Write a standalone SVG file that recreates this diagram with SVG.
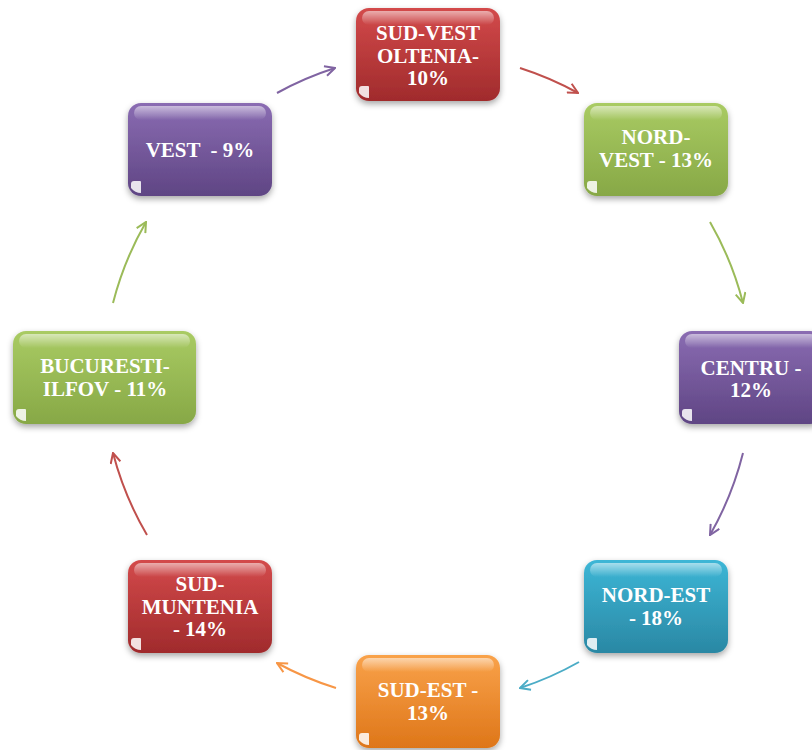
<svg xmlns="http://www.w3.org/2000/svg" width="812" height="750" viewBox="0 0 812 750">
<defs>
<style>
.t{font-family:"Liberation Serif","Times New Roman",serif;font-weight:bold;font-size:21px;fill:#fff;text-anchor:middle}
.hl{fill:url(#hl)}
.cn{fill:#fff;opacity:0.85}
.arc{fill:none;stroke-width:2}
</style>
<filter id="sh" x="-20%" y="-20%" width="140%" height="150%">
<feDropShadow dx="0" dy="3" stdDeviation="3" flood-color="#000" flood-opacity="0.35"/>
</filter>
<linearGradient id="hl" x1="0" y1="0" x2="0" y2="1">
<stop offset="0" stop-color="#fff" stop-opacity="0.55"/>
<stop offset="1" stop-color="#fff" stop-opacity="0"/>
</linearGradient>
<linearGradient id="gRed" x1="0" y1="0" x2="0" y2="1">
<stop offset="0" stop-color="#d34a4b"/><stop offset="1" stop-color="#a02b2c"/>
</linearGradient>
<linearGradient id="gGreen" x1="0" y1="0" x2="0" y2="1">
<stop offset="0" stop-color="#a9cb63"/><stop offset="1" stop-color="#87a846"/>
</linearGradient>
<linearGradient id="gPurple" x1="0" y1="0" x2="0" y2="1">
<stop offset="0" stop-color="#8a6cb2"/><stop offset="1" stop-color="#5f4584"/>
</linearGradient>
<linearGradient id="gBlue" x1="0" y1="0" x2="0" y2="1">
<stop offset="0" stop-color="#3db6d6"/><stop offset="1" stop-color="#2a88a4"/>
</linearGradient>
<linearGradient id="gOrange" x1="0" y1="0" x2="0" y2="1">
<stop offset="0" stop-color="#f9a24a"/><stop offset="1" stop-color="#de7619"/>
</linearGradient>
<marker id="mPurple" viewBox="0 0 12 12" refX="11" refY="6" markerWidth="12" markerHeight="12" markerUnits="userSpaceOnUse" orient="auto"><path d="M1,1 L11,6 L1,11" fill="none" stroke="#8064a2" stroke-width="2"/></marker>
<marker id="mRed" viewBox="0 0 12 12" refX="11" refY="6" markerWidth="12" markerHeight="12" markerUnits="userSpaceOnUse" orient="auto"><path d="M1,1 L11,6 L1,11" fill="none" stroke="#c0504d" stroke-width="2"/></marker>
<marker id="mGreen" viewBox="0 0 12 12" refX="11" refY="6" markerWidth="12" markerHeight="12" markerUnits="userSpaceOnUse" orient="auto"><path d="M1,1 L11,6 L1,11" fill="none" stroke="#9bbb59" stroke-width="2"/></marker>
<marker id="mBlue" viewBox="0 0 12 12" refX="11" refY="6" markerWidth="12" markerHeight="12" markerUnits="userSpaceOnUse" orient="auto"><path d="M1,1 L11,6 L1,11" fill="none" stroke="#4bacc6" stroke-width="2"/></marker>
<marker id="mOrange" viewBox="0 0 12 12" refX="11" refY="6" markerWidth="12" markerHeight="12" markerUnits="userSpaceOnUse" orient="auto"><path d="M1,1 L11,6 L1,11" fill="none" stroke="#f79646" stroke-width="2"/></marker>
</defs>
<rect width="812" height="750" fill="#fff"/>

<g id="connectors">
<path class="arc" stroke="#8064a2" marker-end="url(#mPurple)" d="M277,93 A323,323 0 0 1 335,68"/>
<path class="arc" stroke="#c0504d" marker-end="url(#mRed)" d="M520,68 A323,323 0 0 1 578,93"/>
<path class="arc" stroke="#9bbb59" marker-end="url(#mGreen)" d="M710,222 A323,323 0 0 1 743,303"/>
<path class="arc" stroke="#8064a2" marker-end="url(#mPurple)" d="M743,453 A323,323 0 0 1 710,535"/>
<path class="arc" stroke="#4bacc6" marker-end="url(#mBlue)" d="M579,662 A323,323 0 0 1 520,688"/>
<path class="arc" stroke="#f79646" marker-end="url(#mOrange)" d="M336,688 A323,323 0 0 1 277,663"/>
<path class="arc" stroke="#c0504d" marker-end="url(#mRed)" d="M147,535 A323,323 0 0 1 113,453"/>
<path class="arc" stroke="#9bbb59" marker-end="url(#mGreen)" d="M113,303 A323,323 0 0 1 146,222"/>
</g>

<g id="n1">
<rect x="356" y="8" width="144" height="93" rx="13" fill="url(#gRed)" filter="url(#sh)"/>
<rect x="362" y="11" width="132" height="14" rx="7" class="hl"/>
<path class="cn" d="M359,89 Q359,86 362,86 L368,86 Q369,86 369,87 L369,98 Q363,98 359,93 Z"/>
<text class="t" x="428" y="40">SUD-VEST</text>
<text class="t" x="428" y="62.5">OLTENIA-</text>
<text class="t" x="428" y="85">10%</text>
</g>

<g id="n2">
<rect x="584" y="103" width="144" height="93" rx="13" fill="url(#gGreen)" filter="url(#sh)"/>
<rect x="590" y="106" width="132" height="14" rx="7" class="hl"/>
<path class="cn" d="M587,184 Q587,181 590,181 L596,181 Q597,181 597,182 L597,193 Q591,193 587,188 Z"/>
<text class="t" x="656" y="144">NORD-</text>
<text class="t" x="656" y="167">VEST - 13%</text>
</g>

<g id="n3">
<rect x="679" y="331" width="144" height="93" rx="13" fill="url(#gPurple)" filter="url(#sh)"/>
<rect x="685" y="334" width="132" height="14" rx="7" class="hl"/>
<path class="cn" d="M682,412 Q682,409 685,409 L691,409 Q692,409 692,410 L692,421 Q686,421 682,416 Z"/>
<text class="t" x="751" y="375">CENTRU -</text>
<text class="t" x="751" y="397">12%</text>
</g>

<g id="n4">
<rect x="584" y="560" width="144" height="93" rx="13" fill="url(#gBlue)" filter="url(#sh)"/>
<rect x="590" y="563" width="132" height="14" rx="7" class="hl"/>
<path class="cn" d="M587,641 Q587,638 590,638 L596,638 Q597,638 597,639 L597,650 Q591,650 587,645 Z"/>
<text class="t" x="656" y="602">NORD-EST</text>
<text class="t" x="656" y="625">- 18%</text>
</g>

<g id="n5">
<rect x="356" y="655" width="144" height="93" rx="13" fill="url(#gOrange)" filter="url(#sh)"/>
<rect x="362" y="658" width="132" height="14" rx="7" class="hl"/>
<path class="cn" d="M359,736 Q359,733 362,733 L368,733 Q369,733 369,734 L369,745 Q363,745 359,740 Z"/>
<text class="t" x="428" y="697">SUD-EST -</text>
<text class="t" x="428" y="720">13%</text>
</g>

<g id="n6">
<rect x="128" y="560" width="144" height="93" rx="13" fill="url(#gRed)" filter="url(#sh)"/>
<rect x="134" y="563" width="132" height="14" rx="7" class="hl"/>
<path class="cn" d="M131,641 Q131,638 134,638 L140,638 Q141,638 141,639 L141,650 Q135,650 131,645 Z"/>
<text class="t" x="200" y="591">SUD-</text>
<text class="t" x="200" y="613.5">MUNTENIA</text>
<text class="t" x="200" y="636">- 14%</text>
</g>

<g id="n7">
<rect x="13" y="331" width="183" height="93" rx="13" fill="url(#gGreen)" filter="url(#sh)"/>
<rect x="19" y="334" width="171" height="14" rx="7" class="hl"/>
<path class="cn" d="M16,412 Q16,409 19,409 L25,409 Q26,409 26,410 L26,421 Q20,421 16,416 Z"/>
<text class="t" x="105" y="373">BUCURESTI-</text>
<text class="t" x="105" y="396">ILFOV - 11%</text>
</g>

<g id="n8">
<rect x="128" y="103" width="144" height="93" rx="13" fill="url(#gPurple)" filter="url(#sh)"/>
<rect x="134" y="106" width="132" height="14" rx="7" class="hl"/>
<path class="cn" d="M131,184 Q131,181 134,181 L140,181 Q141,181 141,182 L141,193 Q135,193 131,188 Z"/>
<text class="t" x="200" y="157" xml:space="preserve">VEST  - 9%</text>
</g>
</svg>
